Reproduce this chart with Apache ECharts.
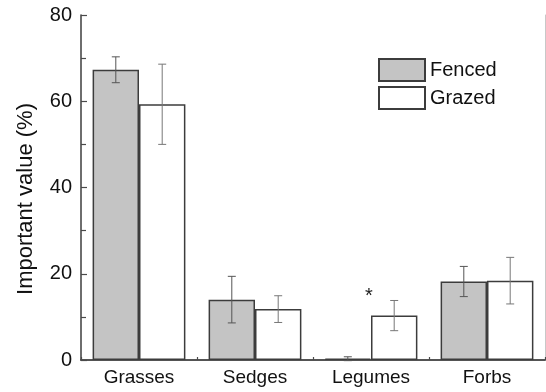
<!DOCTYPE html>
<html>
<head>
<meta charset="utf-8">
<script src="https://cdn.jsdelivr.net/npm/echarts@6/dist/echarts.min.js"></script>
<style>
  html, body { margin: 0; padding: 0; background: #fff; }
  #chart { width: 546px; height: 392px; }
</style>
</head>
<body>
<div id="chart"></div>
<script>
// Plant functional groups and their importance values (mean ± SE)
const categories = ['Grasses', 'Sedges', 'Legumes', 'Forbs'];
const fencedValues = [67.3, 14.0, 0.3, 18.2];
const fencedErrors = [3.0, 5.4, 0.45, 3.5];
const grazedValues = [59.3, 11.8, 10.3, 18.4];
const grazedErrors = [9.3, 3.1, 3.5, 5.4];
// Significance marks per group
const significance = ['', '', '*', ''];
const yTicks = [0, 20, 40, 60, 80];

const FONT = '"Liberation Sans", Arial, sans-serif';
const AXIS_COLOR = '#4a4a4a';

function errorData(values, errors) {
  return values.map((v, i) => [i, v - errors[i], v + errors[i]]);
}

function errorRenderer(side, color) {
  return function (params, api) {
    const idx = api.value(0);
    const lo = api.coord([idx, api.value(1)]);
    const hi = api.coord([idx, api.value(2)]);
    const band = api.size([1, 0])[0];
    const cx = lo[0] + side * band * 0.2;
    const half = 4;
    const style = { stroke: color, lineWidth: 1 };
    return {
      type: 'group',
      children: [
        { type: 'line', shape: { x1: cx, y1: hi[1], x2: cx, y2: lo[1] }, style },
        { type: 'line', shape: { x1: cx - half, y1: hi[1], x2: cx + half, y2: hi[1] }, style },
        { type: 'line', shape: { x1: cx - half, y1: lo[1], x2: cx + half, y2: lo[1] }, style }
      ]
    };
  };
}

const chart = echarts.init(document.getElementById('chart'), null, { renderer: 'canvas' });

chart.setOption({
  animation: false,
  backgroundColor: '#fff',
  textStyle: { fontFamily: FONT },
  grid: { left: 81, right: 1, top: 15, bottom: 32, containLabel: false },
  legend: {
    data: ['Fenced', 'Grazed'],
    orient: 'vertical',
    left: 373,
    top: 53,
    itemWidth: 46,
    itemHeight: 22,
    itemGap: 4,
    icon: 'rect',
    textStyle: { fontSize: 20, color: '#111', fontFamily: FONT }
  },
  xAxis: [
    {
      type: 'category',
      data: categories,
      position: 'bottom',
      axisLine: { lineStyle: { color: AXIS_COLOR, width: 1.6 } },
      axisTick: { show: true, inside: true, length: 3, lineStyle: { color: AXIS_COLOR, width: 1.2 } },
      axisLabel: { fontSize: 19, color: '#111', margin: 8, fontFamily: FONT },
      splitLine: { show: false }
    },
    {
      type: 'category',
      data: categories,
      position: 'top',
      axisLine: { lineStyle: { color: AXIS_COLOR, width: 1.6 } },
      axisTick: { show: false },
      axisLabel: { show: false },
      splitLine: { show: false }
    }
  ],
  yAxis: [
    {
      type: 'value',
      min: yTicks[0],
      max: yTicks[yTicks.length - 1],
      interval: 20,
      name: 'Important value (%)',
      nameLocation: 'middle',
      nameGap: 44,
      nameTextStyle: { fontSize: 22, color: '#111', fontFamily: FONT, padding: [0, 23, 0, 0] },
      axisLine: { show: true, lineStyle: { color: AXIS_COLOR, width: 1.6 } },
      axisTick: { show: true, inside: true, length: 6, lineStyle: { color: AXIS_COLOR, width: 1.2 } },
      minorTick: { show: true, splitNumber: 2, length: 5, lineStyle: { color: AXIS_COLOR, width: 1.2 } },
      axisLabel: { fontSize: 20, color: '#111', margin: 9, fontFamily: FONT },
      splitLine: { show: false }
    },
    {
      type: 'value',
      min: yTicks[0],
      max: yTicks[yTicks.length - 1],
      position: 'right',
      axisLine: { show: true, lineStyle: { color: '#c8c8c8', width: 1 } },
      axisTick: { show: false },
      axisLabel: { show: false },
      splitLine: { show: false }
    }
  ],
  series: [
    {
      name: 'Fenced',
      type: 'bar',
      data: fencedValues,
      barGap: '0%',
      barCategoryGap: '20%',
      itemStyle: { color: '#c4c4c4', borderColor: '#3c3c3c', borderWidth: 1.5 }
    },
    {
      name: 'Grazed',
      type: 'bar',
      data: grazedValues,
      barGap: '0%',
      barCategoryGap: '20%',
      itemStyle: { color: '#ffffff', borderColor: '#3c3c3c', borderWidth: 1.5 }
    },
    {
      type: 'custom',
      renderItem: errorRenderer(-1, '#555'),
      data: errorData(fencedValues, fencedErrors),
      encode: { x: 0, y: [1, 2] },
      z: 5
    },
    {
      type: 'custom',
      renderItem: errorRenderer(1, '#777'),
      data: errorData(grazedValues, grazedErrors),
      encode: { x: 0, y: [1, 2] },
      z: 5
    },
    {
      type: 'custom',
      data: significance.map((s, i) => [i, Math.max(fencedValues[i] + fencedErrors[i], grazedValues[i] + grazedErrors[i]), s]),
      encode: { x: 0, y: 1 },
      renderItem: function (params, api) {
        const mark = significance[params.dataIndex];
        if (!mark) return null;
        const p = api.coord([api.value(0), api.value(1)]);
        return {
          type: 'text',
          x: p[0] - 2,
          y: p[1] - 4,
          style: {
            text: mark,
            fontSize: 20,
            fontFamily: FONT,
            fill: '#222',
            align: 'center',
            verticalAlign: 'middle'
          }
        };
      },
      z: 6
    }
  ]
});
</script>
</body>
</html>
